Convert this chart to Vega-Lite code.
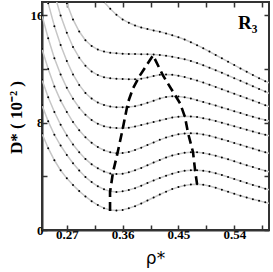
{
"$schema": "https://vega.github.io/schema/vega-lite/v6.json",
"width": 227, "height": 228,
"autosize": "none",
"padding": {"left": 42, "top": 2, "right": 4, "bottom": 42},
"config": {"view": {"stroke": "#333333", "strokeWidth": 2}, "axis": {"grid": false, "domainColor": "#333333", "domainWidth": 2, "tickColor": "#333333", "tickWidth": 1.5, "labelFont": "Liberation Serif", "labelFontWeight": "bold", "labelFontSize": 13, "labelColor": "black", "titleColor": "black"}},
"datasets": {
"curves": [
{"c":1,"r":0.23,"d":7.2},{"c":1,"r":0.24,"d":6.1},{"c":1,"r":0.25,"d":5.2},{"c":1,"r":0.26,"d":4.45},{"c":1,"r":0.27,"d":3.85},{"c":1,"r":0.28,"d":3.35},{"c":1,"r":0.29,"d":2.9},{"c":1,"r":0.30,"d":2.5},{"c":1,"r":0.31,"d":2.15},{"c":1,"r":0.32,"d":1.86},{"c":1,"r":0.33,"d":1.63},{"c":1,"r":0.34,"d":1.49},{"c":1,"r":0.35,"d":1.45},{"c":1,"r":0.36,"d":1.5},{"c":1,"r":0.37,"d":1.62},{"c":1,"r":0.38,"d":1.78},{"c":1,"r":0.39,"d":1.98},{"c":1,"r":0.40,"d":2.2},{"c":1,"r":0.41,"d":2.42},{"c":1,"r":0.42,"d":2.65},{"c":1,"r":0.43,"d":2.86},{"c":1,"r":0.44,"d":3.05},{"c":1,"r":0.45,"d":3.2},{"c":1,"r":0.46,"d":3.32},{"c":1,"r":0.47,"d":3.4},{"c":1,"r":0.48,"d":3.42},{"c":1,"r":0.49,"d":3.38},{"c":1,"r":0.50,"d":3.28},{"c":1,"r":0.51,"d":3.15},{"c":1,"r":0.52,"d":3.0},{"c":1,"r":0.53,"d":2.85},{"c":1,"r":0.54,"d":2.7},{"c":1,"r":0.55,"d":2.56},{"c":1,"r":0.56,"d":2.42},{"c":1,"r":0.57,"d":2.3},{"c":1,"r":0.58,"d":2.18},{"c":1,"r":0.59,"d":2.06},{"c":1,"r":0.60,"d":1.95},
{"c":2,"r":0.23,"d":9.3},{"c":2,"r":0.24,"d":8.1},{"c":2,"r":0.25,"d":7.1},{"c":2,"r":0.26,"d":6.3},{"c":2,"r":0.27,"d":5.6},{"c":2,"r":0.28,"d":4.98},{"c":2,"r":0.29,"d":4.43},{"c":2,"r":0.30,"d":3.95},{"c":2,"r":0.31,"d":3.57},{"c":2,"r":0.32,"d":3.26},{"c":2,"r":0.33,"d":3.03},{"c":2,"r":0.34,"d":2.89},{"c":2,"r":0.35,"d":2.84},{"c":2,"r":0.36,"d":2.88},{"c":2,"r":0.37,"d":2.98},{"c":2,"r":0.38,"d":3.12},{"c":2,"r":0.39,"d":3.3},{"c":2,"r":0.40,"d":3.5},{"c":2,"r":0.41,"d":3.7},{"c":2,"r":0.42,"d":3.88},{"c":2,"r":0.43,"d":4.05},{"c":2,"r":0.44,"d":4.2},{"c":2,"r":0.45,"d":4.32},{"c":2,"r":0.46,"d":4.41},{"c":2,"r":0.47,"d":4.46},{"c":2,"r":0.48,"d":4.46},{"c":2,"r":0.49,"d":4.42},{"c":2,"r":0.50,"d":4.34},{"c":2,"r":0.51,"d":4.23},{"c":2,"r":0.52,"d":4.1},{"c":2,"r":0.53,"d":3.95},{"c":2,"r":0.54,"d":3.8},{"c":2,"r":0.55,"d":3.65},{"c":2,"r":0.56,"d":3.5},{"c":2,"r":0.57,"d":3.36},{"c":2,"r":0.58,"d":3.22},{"c":2,"r":0.59,"d":3.08},{"c":2,"r":0.60,"d":2.95},
{"c":3,"r":0.23,"d":11.2},{"c":3,"r":0.24,"d":9.9},{"c":3,"r":0.25,"d":8.8},{"c":3,"r":0.26,"d":7.85},{"c":3,"r":0.27,"d":7.05},{"c":3,"r":0.28,"d":6.38},{"c":3,"r":0.29,"d":5.8},{"c":3,"r":0.30,"d":5.3},{"c":3,"r":0.31,"d":4.9},{"c":3,"r":0.32,"d":4.6},{"c":3,"r":0.33,"d":4.36},{"c":3,"r":0.34,"d":4.22},{"c":3,"r":0.35,"d":4.17},{"c":3,"r":0.36,"d":4.2},{"c":3,"r":0.37,"d":4.3},{"c":3,"r":0.38,"d":4.45},{"c":3,"r":0.39,"d":4.63},{"c":3,"r":0.40,"d":4.83},{"c":3,"r":0.41,"d":5.03},{"c":3,"r":0.42,"d":5.22},{"c":3,"r":0.43,"d":5.4},{"c":3,"r":0.44,"d":5.55},{"c":3,"r":0.45,"d":5.67},{"c":3,"r":0.46,"d":5.76},{"c":3,"r":0.47,"d":5.8},{"c":3,"r":0.48,"d":5.79},{"c":3,"r":0.49,"d":5.74},{"c":3,"r":0.50,"d":5.65},{"c":3,"r":0.51,"d":5.54},{"c":3,"r":0.52,"d":5.41},{"c":3,"r":0.53,"d":5.27},{"c":3,"r":0.54,"d":5.12},{"c":3,"r":0.55,"d":4.97},{"c":3,"r":0.56,"d":4.83},{"c":3,"r":0.57,"d":4.69},{"c":3,"r":0.58,"d":4.55},{"c":3,"r":0.59,"d":4.42},{"c":3,"r":0.60,"d":4.3},
{"c":4,"r":0.23,"d":13.5},{"c":4,"r":0.24,"d":12.0},{"c":4,"r":0.25,"d":10.7},{"c":4,"r":0.26,"d":9.65},{"c":4,"r":0.27,"d":8.8},{"c":4,"r":0.28,"d":8.05},{"c":4,"r":0.29,"d":7.43},{"c":4,"r":0.30,"d":6.92},{"c":4,"r":0.31,"d":6.5},{"c":4,"r":0.32,"d":6.18},{"c":4,"r":0.33,"d":5.95},{"c":4,"r":0.34,"d":5.8},{"c":4,"r":0.35,"d":5.73},{"c":4,"r":0.36,"d":5.74},{"c":4,"r":0.37,"d":5.82},{"c":4,"r":0.38,"d":5.96},{"c":4,"r":0.39,"d":6.14},{"c":4,"r":0.40,"d":6.34},{"c":4,"r":0.41,"d":6.53},{"c":4,"r":0.42,"d":6.72},{"c":4,"r":0.43,"d":6.89},{"c":4,"r":0.44,"d":7.03},{"c":4,"r":0.45,"d":7.14},{"c":4,"r":0.46,"d":7.2},{"c":4,"r":0.47,"d":7.22},{"c":4,"r":0.48,"d":7.19},{"c":4,"r":0.49,"d":7.12},{"c":4,"r":0.50,"d":7.02},{"c":4,"r":0.51,"d":6.9},{"c":4,"r":0.52,"d":6.77},{"c":4,"r":0.53,"d":6.63},{"c":4,"r":0.54,"d":6.49},{"c":4,"r":0.55,"d":6.35},{"c":4,"r":0.56,"d":6.21},{"c":4,"r":0.57,"d":6.07},{"c":4,"r":0.58,"d":5.93},{"c":4,"r":0.59,"d":5.8},{"c":4,"r":0.60,"d":5.67},
{"c":5,"r":0.23,"d":16.0},{"c":5,"r":0.24,"d":14.3},{"c":5,"r":0.25,"d":12.8},{"c":5,"r":0.26,"d":11.6},{"c":5,"r":0.27,"d":10.6},{"c":5,"r":0.28,"d":9.78},{"c":5,"r":0.29,"d":9.12},{"c":5,"r":0.30,"d":8.6},{"c":5,"r":0.31,"d":8.2},{"c":5,"r":0.32,"d":7.92},{"c":5,"r":0.33,"d":7.74},{"c":5,"r":0.34,"d":7.64},{"c":5,"r":0.35,"d":7.6},{"c":5,"r":0.36,"d":7.59},{"c":5,"r":0.37,"d":7.63},{"c":5,"r":0.38,"d":7.71},{"c":5,"r":0.39,"d":7.82},{"c":5,"r":0.40,"d":7.94},{"c":5,"r":0.41,"d":8.05},{"c":5,"r":0.42,"d":8.17},{"c":5,"r":0.43,"d":8.28},{"c":5,"r":0.44,"d":8.38},{"c":5,"r":0.45,"d":8.45},{"c":5,"r":0.46,"d":8.48},{"c":5,"r":0.47,"d":8.47},{"c":5,"r":0.48,"d":8.42},{"c":5,"r":0.49,"d":8.34},{"c":5,"r":0.50,"d":8.24},{"c":5,"r":0.51,"d":8.13},{"c":5,"r":0.52,"d":8.0},{"c":5,"r":0.53,"d":7.87},{"c":5,"r":0.54,"d":7.74},{"c":5,"r":0.55,"d":7.61},{"c":5,"r":0.56,"d":7.48},{"c":5,"r":0.57,"d":7.35},{"c":5,"r":0.58,"d":7.22},{"c":5,"r":0.59,"d":7.1},{"c":5,"r":0.60,"d":6.98},
{"c":6,"r":0.23,"d":18.8},{"c":6,"r":0.24,"d":16.9},{"c":6,"r":0.25,"d":15.2},{"c":6,"r":0.26,"d":13.8},{"c":6,"r":0.27,"d":12.6},{"c":6,"r":0.28,"d":11.6},{"c":6,"r":0.29,"d":10.82},{"c":6,"r":0.30,"d":10.22},{"c":6,"r":0.31,"d":9.8},{"c":6,"r":0.32,"d":9.5},{"c":6,"r":0.33,"d":9.32},{"c":6,"r":0.34,"d":9.21},{"c":6,"r":0.35,"d":9.16},{"c":6,"r":0.36,"d":9.15},{"c":6,"r":0.37,"d":9.17},{"c":6,"r":0.38,"d":9.23},{"c":6,"r":0.39,"d":9.34},{"c":6,"r":0.40,"d":9.48},{"c":6,"r":0.41,"d":9.64},{"c":6,"r":0.42,"d":9.8},{"c":6,"r":0.43,"d":9.92},{"c":6,"r":0.44,"d":9.97},{"c":6,"r":0.45,"d":9.96},{"c":6,"r":0.46,"d":9.9},{"c":6,"r":0.47,"d":9.8},{"c":6,"r":0.48,"d":9.68},{"c":6,"r":0.49,"d":9.55},{"c":6,"r":0.50,"d":9.42},{"c":6,"r":0.51,"d":9.28},{"c":6,"r":0.52,"d":9.14},{"c":6,"r":0.53,"d":9.0},{"c":6,"r":0.54,"d":8.86},{"c":6,"r":0.55,"d":8.72},{"c":6,"r":0.56,"d":8.58},{"c":6,"r":0.57,"d":8.45},{"c":6,"r":0.58,"d":8.32},{"c":6,"r":0.59,"d":8.2},{"c":6,"r":0.60,"d":8.08},
{"c":7,"r":0.24,"d":19.5},{"c":7,"r":0.25,"d":17.6},{"c":7,"r":0.26,"d":16.0},{"c":7,"r":0.27,"d":14.7},{"c":7,"r":0.28,"d":13.65},{"c":7,"r":0.29,"d":12.85},{"c":7,"r":0.30,"d":12.25},{"c":7,"r":0.31,"d":11.82},{"c":7,"r":0.32,"d":11.55},{"c":7,"r":0.33,"d":11.39},{"c":7,"r":0.34,"d":11.31},{"c":7,"r":0.35,"d":11.27},{"c":7,"r":0.36,"d":11.25},{"c":7,"r":0.37,"d":11.24},{"c":7,"r":0.38,"d":11.24},{"c":7,"r":0.39,"d":11.28},{"c":7,"r":0.40,"d":11.37},{"c":7,"r":0.41,"d":11.48},{"c":7,"r":0.42,"d":11.57},{"c":7,"r":0.43,"d":11.6},{"c":7,"r":0.44,"d":11.57},{"c":7,"r":0.45,"d":11.5},{"c":7,"r":0.46,"d":11.4},{"c":7,"r":0.47,"d":11.28},{"c":7,"r":0.48,"d":11.14},{"c":7,"r":0.49,"d":10.99},{"c":7,"r":0.50,"d":10.83},{"c":7,"r":0.51,"d":10.67},{"c":7,"r":0.52,"d":10.5},{"c":7,"r":0.53,"d":10.33},{"c":7,"r":0.54,"d":10.16},{"c":7,"r":0.55,"d":9.99},{"c":7,"r":0.56,"d":9.82},{"c":7,"r":0.57,"d":9.65},{"c":7,"r":0.58,"d":9.48},{"c":7,"r":0.59,"d":9.31},{"c":7,"r":0.60,"d":9.15},
{"c":8,"r":0.26,"d":18.4},{"c":8,"r":0.27,"d":16.9},{"c":8,"r":0.28,"d":15.7},{"c":8,"r":0.29,"d":14.8},{"c":8,"r":0.30,"d":14.15},{"c":8,"r":0.31,"d":13.72},{"c":8,"r":0.32,"d":13.45},{"c":8,"r":0.33,"d":13.3},{"c":8,"r":0.34,"d":13.22},{"c":8,"r":0.35,"d":13.18},{"c":8,"r":0.36,"d":13.15},{"c":8,"r":0.37,"d":13.13},{"c":8,"r":0.38,"d":13.12},{"c":8,"r":0.39,"d":13.11},{"c":8,"r":0.40,"d":13.1},{"c":8,"r":0.41,"d":13.08},{"c":8,"r":0.42,"d":13.05},{"c":8,"r":0.43,"d":13.0},{"c":8,"r":0.44,"d":12.92},{"c":8,"r":0.45,"d":12.83},{"c":8,"r":0.46,"d":12.73},{"c":8,"r":0.47,"d":12.6},{"c":8,"r":0.48,"d":12.45},{"c":8,"r":0.49,"d":12.28},{"c":8,"r":0.50,"d":12.1},{"c":8,"r":0.51,"d":11.91},{"c":8,"r":0.52,"d":11.72},{"c":8,"r":0.53,"d":11.52},{"c":8,"r":0.54,"d":11.32},{"c":8,"r":0.55,"d":11.12},{"c":8,"r":0.56,"d":10.92},{"c":8,"r":0.57,"d":10.72},{"c":8,"r":0.58,"d":10.52},{"c":8,"r":0.59,"d":10.32},{"c":8,"r":0.60,"d":10.12},
{"c":9,"r":0.30,"d":19.5},{"c":9,"r":0.31,"d":18.4},{"c":9,"r":0.32,"d":17.6},{"c":9,"r":0.33,"d":17.0},{"c":9,"r":0.34,"d":16.5},{"c":9,"r":0.35,"d":16.05},{"c":9,"r":0.36,"d":15.7},{"c":9,"r":0.37,"d":15.45},{"c":9,"r":0.38,"d":15.25},{"c":9,"r":0.39,"d":15.1},{"c":9,"r":0.40,"d":14.98},{"c":9,"r":0.41,"d":14.88},{"c":9,"r":0.42,"d":14.78},{"c":9,"r":0.43,"d":14.66},{"c":9,"r":0.44,"d":14.52},{"c":9,"r":0.45,"d":14.37},{"c":9,"r":0.46,"d":14.2},{"c":9,"r":0.47,"d":14.0},{"c":9,"r":0.48,"d":13.78},{"c":9,"r":0.49,"d":13.55},{"c":9,"r":0.50,"d":13.3},{"c":9,"r":0.51,"d":13.05},{"c":9,"r":0.52,"d":12.8},{"c":9,"r":0.53,"d":12.55},{"c":9,"r":0.54,"d":12.3},{"c":9,"r":0.55,"d":12.05},{"c":9,"r":0.56,"d":11.8},{"c":9,"r":0.57,"d":11.55},{"c":9,"r":0.58,"d":11.32},{"c":9,"r":0.59,"d":11.1},{"c":9,"r":0.60,"d":10.9}
],
"boundary": [
{"o":1,"r":0.3397,"d":1.41},{"o":2,"r":0.3397,"d":2.83},{"o":3,"r":0.3445,"d":4.32},{"o":4,"r":0.351,"d":5.58},{"o":5,"r":0.359,"d":7.29},{"o":6,"r":0.3687,"d":9.52},{"o":7,"r":0.3768,"d":10.57},{"o":8,"r":0.388,"d":11.53},{"o":9,"r":0.396,"d":12.1},{"o":10,"r":0.409,"d":13.02},{"o":11,"r":0.425,"d":11.53},{"o":12,"r":0.4397,"d":10.42},{"o":13,"r":0.4526,"d":9.45},{"o":14,"r":0.4606,"d":8.41},{"o":15,"r":0.4655,"d":7.22},{"o":16,"r":0.4735,"d":5.8},{"o":17,"r":0.4768,"d":4.46},{"o":18,"r":0.48,"d":3.42}
],
"lab": [{"t":"R₃","r":0.546,"d":15.4}]
},
"layer": [
{"data": {"name": "curves"}, "mark": {"type": "line", "color": "#c6c6c6", "strokeWidth": 1.5, "clip": true},
 "encoding": {
  "x": {"field": "r", "type": "quantitative", "scale": {"domain": [0.23, 0.596], "nice": false, "zero": false},
        "axis": {"orient": "bottom", "values": [0.27,0.315,0.36,0.405,0.45,0.495,0.54,0.585], "labelExpr": "round(datum.value*1000) % 90 == 0 ? format(datum.value, '.2f') : ''", "tickSize": -5, "labelPadding": 3, "labelFlush": false, "title": "ρ*", "titleFont": "DejaVu Sans", "titleFontWeight": "normal", "titleFontSize": 17, "titleX": 113, "titleY": 33, "titleBaseline": "alphabetic"}},
  "y": {"field": "d", "type": "quantitative", "scale": {"domain": [0, 17], "nice": false, "zero": false},
        "axis": {"orient": "left", "values": [0,4,8,12,16], "labelExpr": "datum.value % 8 == 0 ? format(datum.value, 'd') : ''", "tickSize": -5, "labelPadding": 4, "labelFlush": false, "title": "D* ( 10⁻² )", "titleFont": "Liberation Serif", "titleFontWeight": "bold", "titleFontSize": 17, "titleX": -26, "titleY": 115, "titleBaseline": "middle", "titleAngle": -90, "titleAlign": "center"}},
  "detail": {"field": "c", "type": "nominal"}
 }},
{"data": {"name": "curves"}, "mark": {"type": "point", "filled": true, "color": "black", "size": 4, "opacity": 1, "clip": true},
 "encoding": {
  "x": {"field": "r", "type": "quantitative", "axis": {"orient": "top", "values": [0.27,0.315,0.36,0.405,0.45,0.495,0.54,0.585], "labels": false, "tickSize": -5, "title": null, "domain": false}},
  "y": {"field": "d", "type": "quantitative", "axis": {"orient": "right", "values": [0,4,8,12,16], "labels": false, "tickSize": -5, "title": null, "domain": false}}
 }},
{"data": {"name": "boundary"}, "mark": {"type": "line", "color": "black", "strokeWidth": 2.6, "strokeDash": [9, 5], "clip": true},
 "encoding": {
  "x": {"field": "r", "type": "quantitative", "axis": null},
  "y": {"field": "d", "type": "quantitative", "axis": null},
  "order": {"field": "o", "type": "quantitative"}
 }},
{"data": {"name": "lab"}, "mark": {"type": "text", "font": "Liberation Serif", "fontWeight": "bold", "fontSize": 19, "align": "left", "baseline": "middle", "color": "black"},
 "encoding": {
  "x": {"field": "r", "type": "quantitative", "axis": null},
  "y": {"field": "d", "type": "quantitative", "axis": null},
  "text": {"field": "t"}
 }}
],
"resolve": {"axis": {"x": "independent", "y": "independent"}}
}
